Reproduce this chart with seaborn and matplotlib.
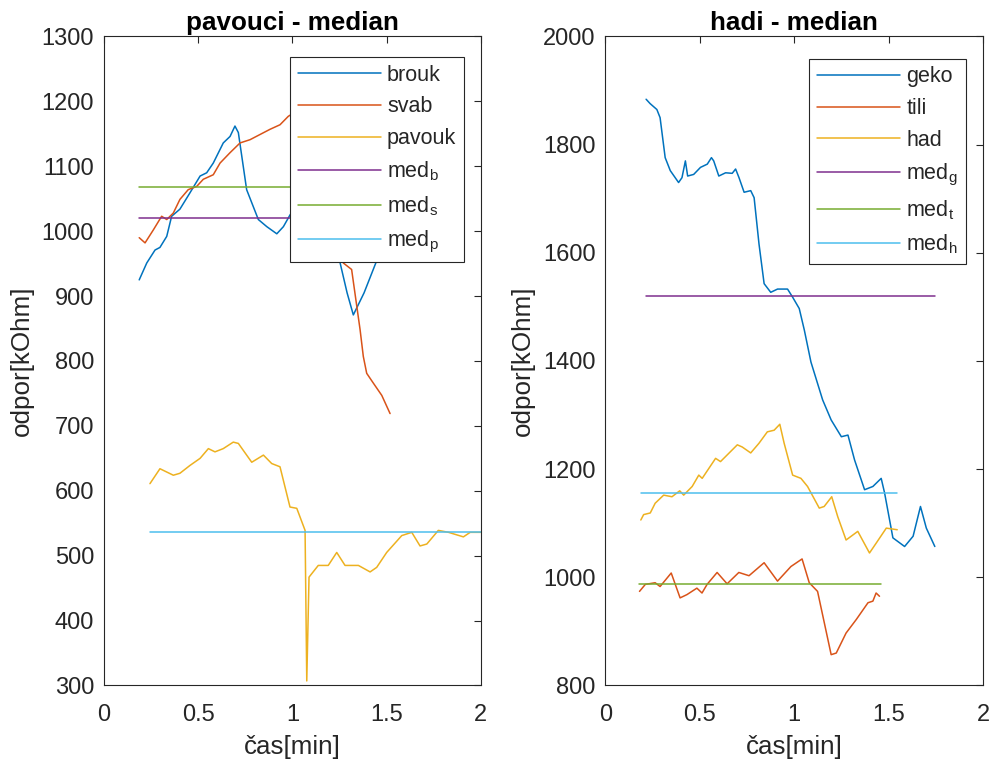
import numpy as np
import pandas as pd
import matplotlib
matplotlib.use("Agg")
import matplotlib.pyplot as plt
import seaborn as sns

# ---- pavouci (spiders) : resistance over time ----
brouk_t = [0.187, 0.227, 0.271, 0.297, 0.333, 0.359, 0.403, 0.456, 0.51, 0.545, 0.58, 0.633,
           0.669, 0.695, 0.713, 0.757, 0.819, 0.864, 0.917, 0.952, 0.987, 1.05, 1.12, 1.2,
           1.253, 1.29, 1.323, 1.38, 1.449, 1.5]
brouk_r = [925, 951, 971, 975, 992, 1023, 1034, 1059, 1085, 1090, 1105, 1136,
           1146, 1162, 1152, 1064, 1018, 1007, 996, 1007, 1025, 1050, 1070, 1010,
           951, 905, 871, 905, 956, 990]

svab_t = [0.187, 0.218, 0.262, 0.306, 0.333, 0.368, 0.403, 0.447, 0.492, 0.527, 0.58, 0.616,
          0.669, 0.722, 0.775, 0.828, 0.881, 0.934, 0.978, 1.05, 1.12, 1.2, 1.27, 1.314,
          1.359, 1.376, 1.394, 1.429, 1.474, 1.518]
svab_r = [990, 982, 1002, 1023, 1018, 1028, 1049, 1064, 1069, 1080, 1087, 1105,
          1121, 1136, 1141, 1149, 1157, 1164, 1177, 1190, 1195, 1080, 951, 941,
          848, 807, 781, 766, 747, 719]

pavouk_t = [0.244, 0.297, 0.368, 0.403, 0.456, 0.51, 0.554, 0.589, 0.633, 0.686, 0.713, 0.784,
            0.846, 0.89, 0.934, 0.987, 1.023, 1.067, 1.076, 1.088, 1.137, 1.19, 1.235, 1.279,
            1.35, 1.412, 1.447, 1.5, 1.58, 1.633, 1.677, 1.713, 1.774, 1.828, 1.907, 1.943, 2.0]
pavouk_r = [611, 634, 624, 627, 639, 650, 665, 660, 665, 675, 673, 644,
            655, 642, 637, 575, 573, 539, 307, 467, 485, 485, 505, 485,
            485, 475, 482, 505, 531, 536, 515, 518, 539, 536, 529, 536, 536]

med_b, med_s, med_p = 1020, 1068, 536
med_b_t = [0.187, 1.5]
med_s_t = [0.187, 1.518]
med_p_t = [0.244, 2.0]

# ---- hadi (snakes) : resistance over time ----
geko_t = [0.216, 0.237, 0.273, 0.29, 0.317, 0.344, 0.388, 0.406, 0.424, 0.436, 0.468, 0.504,
          0.54, 0.562, 0.574, 0.601, 0.637, 0.672, 0.69, 0.708, 0.735, 0.77, 0.788, 0.814,
          0.841, 0.876, 0.912, 0.965, 0.992, 1.027, 1.054, 1.089, 1.151, 1.196, 1.25, 1.285,
          1.32, 1.373, 1.417, 1.461, 1.479, 1.523, 1.585, 1.63, 1.669, 1.70, 1.745]
geko_r = [1884, 1876, 1865, 1850, 1776, 1752, 1730, 1739, 1770, 1742, 1745, 1758,
          1764, 1776, 1770, 1742, 1748, 1747, 1755, 1739, 1712, 1715, 1702, 1616,
          1543, 1527, 1533, 1533, 1518, 1497, 1457, 1398, 1328, 1291, 1260, 1263,
          1217, 1162, 1168, 1183, 1156, 1073, 1057, 1076, 1131, 1091, 1057]

tili_t = [0.181, 0.212, 0.264, 0.29, 0.349, 0.396, 0.432, 0.485, 0.512, 0.539, 0.592, 0.645,
          0.707, 0.761, 0.841, 0.912, 0.983, 1.042, 1.08, 1.124, 1.196, 1.223, 1.275, 1.329,
          1.391, 1.417, 1.434, 1.452]
tili_r = [974, 987, 990, 983, 1008, 962, 968, 980, 971, 987, 1009, 988,
          1009, 1003, 1027, 993, 1020, 1034, 990, 974, 857, 860, 897, 922,
          953, 956, 971, 965]

had_t = [0.188, 0.203, 0.238, 0.264, 0.309, 0.353, 0.394, 0.415, 0.46, 0.495, 0.513, 0.584,
         0.61, 0.699, 0.725, 0.77, 0.814, 0.858, 0.894, 0.924, 0.947, 0.992, 1.036, 1.071,
         1.133, 1.159, 1.199, 1.231, 1.275, 1.337, 1.399, 1.434, 1.488, 1.546]
had_r = [1106, 1116, 1119, 1137, 1152, 1149, 1160, 1152, 1168, 1189, 1183, 1220,
         1214, 1245, 1241, 1230, 1248, 1269, 1272, 1283, 1248, 1189, 1183, 1168,
         1128, 1131, 1149, 1112, 1069, 1085, 1045, 1063, 1091, 1088]

med_g, med_t, med_h = 1520, 987, 1156
med_g_t = [0.216, 1.745]
med_t_t = [0.181, 1.461]
med_h_t = [0.188, 1.546]

# MATLAB-like default line colours
C = ["#0072BD", "#D95319", "#EDB120", "#7E2F8E", "#77AC30", "#4DBEEE"]
INK = "#262626"

sns.set_theme(style="white")
plt.rcParams["font.family"] = ["Liberation Sans", "DejaVu Sans"]
plt.rcParams["mathtext.default"] = "regular"

fig = plt.figure(figsize=(9.92, 7.62), dpi=100)
ax1 = fig.add_axes([0.1048, 0.1004, 0.3800, 0.8517])
ax2 = fig.add_axes([0.6102, 0.1004, 0.3807, 0.8517])


def draw(ax, t, r, color, label):
    df = pd.DataFrame({"t": t, "r": r})
    sns.lineplot(data=df, x="t", y="r", ax=ax, color=color, label=label,
                 sort=False, estimator=None, linewidth=1.1)


def hline(ax, span, value, color, label):
    draw(ax, span, [value, value], color, label)


draw(ax1, brouk_t, brouk_r, C[0], "brouk")
draw(ax1, svab_t, svab_r, C[1], "svab")
draw(ax1, pavouk_t, pavouk_r, C[2], "pavouk")
hline(ax1, med_b_t, med_b, C[3], "med$_b$")
hline(ax1, med_s_t, med_s, C[4], "med$_s$")
hline(ax1, med_p_t, med_p, C[5], "med$_p$")

draw(ax2, geko_t, geko_r, C[0], "geko")
draw(ax2, tili_t, tili_r, C[1], "tili")
draw(ax2, had_t, had_r, C[2], "had")
hline(ax2, med_g_t, med_g, C[3], "med$_g$")
hline(ax2, med_t_t, med_t, C[4], "med$_t$")
hline(ax2, med_h_t, med_h, C[5], "med$_h$")

ax1.set_xlim(0, 2)
ax1.set_ylim(300, 1300)
ax1.set_yticks(np.arange(300, 1301, 100))
ax2.set_xlim(0, 2)
ax2.set_ylim(800, 2000)
ax2.set_yticks(np.arange(800, 2001, 200))

for ax, title, anchor in [(ax1, "pavouci - median", (0.955, 0.9687)),
                          (ax2, "hadi - median", (0.954, 0.966))]:
    ax.set_xticks([0, 0.5, 1, 1.5, 2])
    ax.set_xticklabels(["0", "0.5", "1", "1.5", "2"])
    ax.set_title(title, fontsize=18.7, fontweight="bold", color="black", pad=5)
    ax.set_xlabel("čas[min]", fontsize=18.7, color=INK, labelpad=7)
    ax.set_ylabel("odpor[kOhm]", fontsize=18.7, color=INK, labelpad=6)
    ax.tick_params(axis="both", which="both", direction="in", length=5, width=0.8,
                   colors=INK, labelsize=17, top=True, right=True,
                   labeltop=False, labelright=False)
    ax.tick_params(axis="x", pad=13)
    ax.tick_params(axis="y", pad=7)
    for s in ax.spines.values():
        s.set_visible(True)
        s.set_color(INK)
        s.set_linewidth(0.8)
    leg = ax.legend(loc="upper right", bbox_to_anchor=anchor, borderaxespad=0,
                    fontsize=15.5, frameon=True, fancybox=False, framealpha=1,
                    edgecolor=INK, handlelength=3.85, handletextpad=0.3,
                    labelspacing=0.5, borderpad=0.36)
    leg.get_frame().set_linewidth(0.8)

fig.savefig("out.png", dpi=100, facecolor="white")
